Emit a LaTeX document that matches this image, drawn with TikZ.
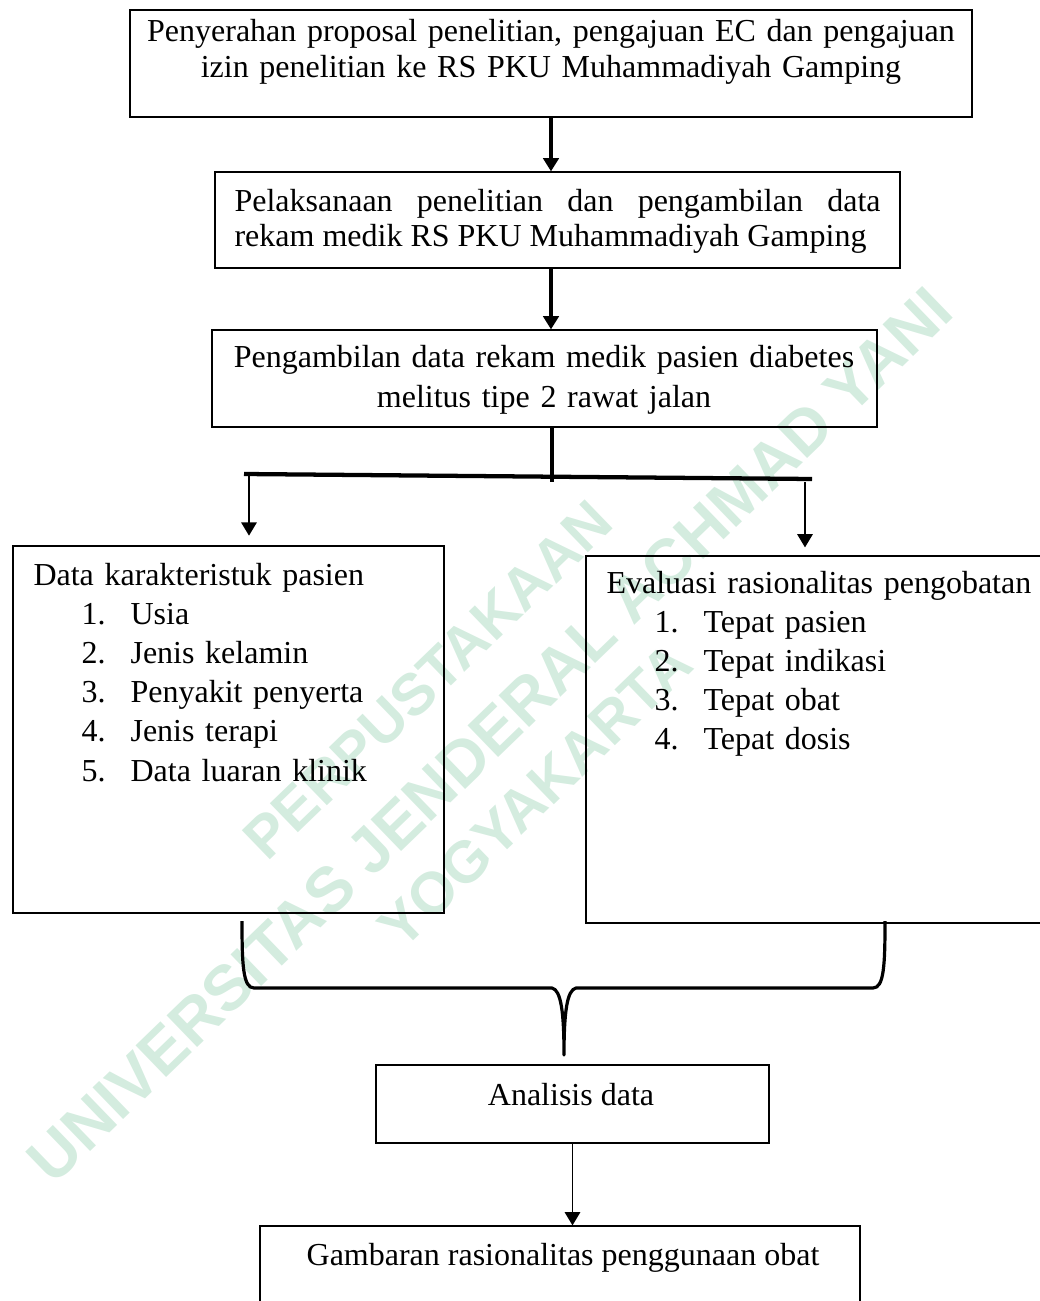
\documentclass[tikz,border=0pt]{standalone}
\usepackage{fontspec}
\setmainfont{Liberation Serif}
\newfontfamily\wmfont{Liberation Sans}
\usetikzlibrary{arrows.meta}
\definecolor{hijauwm}{RGB}{212,236,223}
\newcommand{\butir}[2]{\hspace*{18pt}\makebox[18.4pt][l]{#1}#2}

\begin{document}
\begin{tikzpicture}[x=0.375pt,y=-0.375pt,
		>={Triangle[length=5pt,width=5.8pt]},
		kotaktebal/.style={draw,line width=0.95pt,inner sep=0pt},
		kotaktipis/.style={draw,line width=0.45pt,inner sep=0pt},
		teks/.style={inner sep=0pt,font=\fontsize{12}{14.7}\selectfont},
		panahtebal/.style={->,line width=1.3pt},
		panahtipis/.style={->,line width=0.7pt},
		garistebal/.style={line width=1.2pt},
		garisbar/.style={line width=1.6pt}]
		\useasboundingbox (0,0) rectangle (1040,1301);
		% watermark
		\begin{scope}[every node/.style={text=hijauwm,rotate=44,inner sep=0pt,
			font=\wmfont\bfseries\fontsize{22}{22}\selectfont}]
			\node (wm1) at (428,680) {PERPUSTAKAAN};
			\node[font=\wmfont\bfseries\fontsize{24}{24}\selectfont] (wm2) at (490,735) {UNIVERSITAS JENDERAL ACHMAD YANI};
			\node (wm3) at (535,795) {YOGYAKARTA};
		\end{scope}
		% kotak
		\node[kotaktebal,minimum width=315.75pt,minimum height=40.125pt] (serah) at (551,63.5) {};
		\node[kotaktipis,minimum width=256.875pt,minimum height=36pt] (laksana) at (557.5,220) {};
		\node[kotaktipis,minimum width=249.375pt,minimum height=36.375pt] (ambil) at (544.5,378.5) {};
		\node[kotaktebal,minimum width=161.625pt,minimum height=137.625pt] (karakter) at (228.5,729.5) {};
		\node[kotaktipis,minimum width=174pt,minimum height=137.625pt] (evaluasi) at (818,739.5) {};
		\node[kotaktebal,minimum width=147.375pt,minimum height=29.25pt] (analisis) at (572.5,1104) {};
		\node[kotaktipis,minimum width=225pt,minimum height=35.25pt] (gambaran) at (560,1273) {};
		% isi kotak
		\node[teks,anchor=base,text width=310pt,align=center,
			font=\fontsize{12}{13.5}\selectfont] (serahT) at (551,42)
			{Penyerahan proposal penelitian, pengajuan EC dan pengajuan\\
			izin penelitian ke RS PKU Muhammadiyah Gamping};
		\node[teks,anchor=base west,text width=242.25pt,align=justify,
			font=\fontsize{12}{12.9}\selectfont] (laksanaT) at (234,212)
			{Pelaksanaan penelitian dan pengambilan data\linebreak
			rekam medik RS PKU Muhammadiyah Gamping};
		\node[teks,anchor=base,text width=245pt,align=center,
			font=\fontsize{12}{15}\selectfont] (ambilT) at (544,367)
			{Pengambilan data rekam medik pasien diabetes\\
			melitus tipe 2 rawat jalan};
		\node[teks,anchor=base west,text width=155pt,align=left] (karakterT) at (33,585)
			{Data karakteristuk pasien\\
			\butir{1.}{Usia}\\
			\butir{2.}{Jenis kelamin}\\
			\butir{3.}{Penyakit penyerta}\\
			\butir{4.}{Jenis terapi}\\
			\butir{5.}{Data luaran klinik}};
		\node[teks,anchor=base west,text width=165pt,align=left] (evaluasiT) at (606,593)
			{Evaluasi rasionalitas pengobatan\\
			\butir{1.}{Tepat pasien}\\
			\butir{2.}{Tepat indikasi}\\
			\butir{3.}{Tepat obat}\\
			\butir{4.}{Tepat dosis}};
		\node[teks,anchor=base] (analisisT) at (571,1105) {Analisis data};
		\node[teks,anchor=base] (gambaranT) at (563,1265) {Gambaran rasionalitas penggunaan obat};
		% titik bantu
		\coordinate (cabangKiri) at (244,474);
		\coordinate (cabangKanan) at (812,479);
		\coordinate (cabangTengah) at (552,482);
		\coordinate (kiriAtas) at (249,476);
		\coordinate (kananAtas) at (805,482);
		\coordinate (kurungKiri) at (242,921);
		\coordinate (kurungKanan) at (885,921);
		\coordinate (kurungUjung) at (564,1055);
		% panah
		\draw[panahtebal] (serah.south) -- (serah.south |- laksana.north);
		\draw[panahtebal] (laksana.south -| serah.south) -- (ambil.north -| serah.south);
		\draw[garistebal] (ambil.south -| cabangTengah) -- (cabangTengah);
		\draw[garisbar] (cabangKiri) -- (cabangKanan);
		\draw[panahtipis,shorten >=3.4pt] (kiriAtas) -- (kiriAtas |- karakter.north);
		\draw[panahtipis,shorten >=3pt] (kananAtas) -- (kananAtas |- evaluasi.north);
		\draw[garistebal,line join=round] (kurungKiri) .. controls (242,965) and (243,988) .. (254,988)
			-- (552,988) .. controls (561,990) and (564,1012) .. (kurungUjung)
			.. controls (564,1012) and (567,990) .. (576,988)
			-- (873,988) .. controls (884,988) and (885,965) .. (kurungKanan);
		\draw[panahtipis] (analisis.south) -- (analisis.south |- gambaran.north);
	\end{tikzpicture}
\end{document}
